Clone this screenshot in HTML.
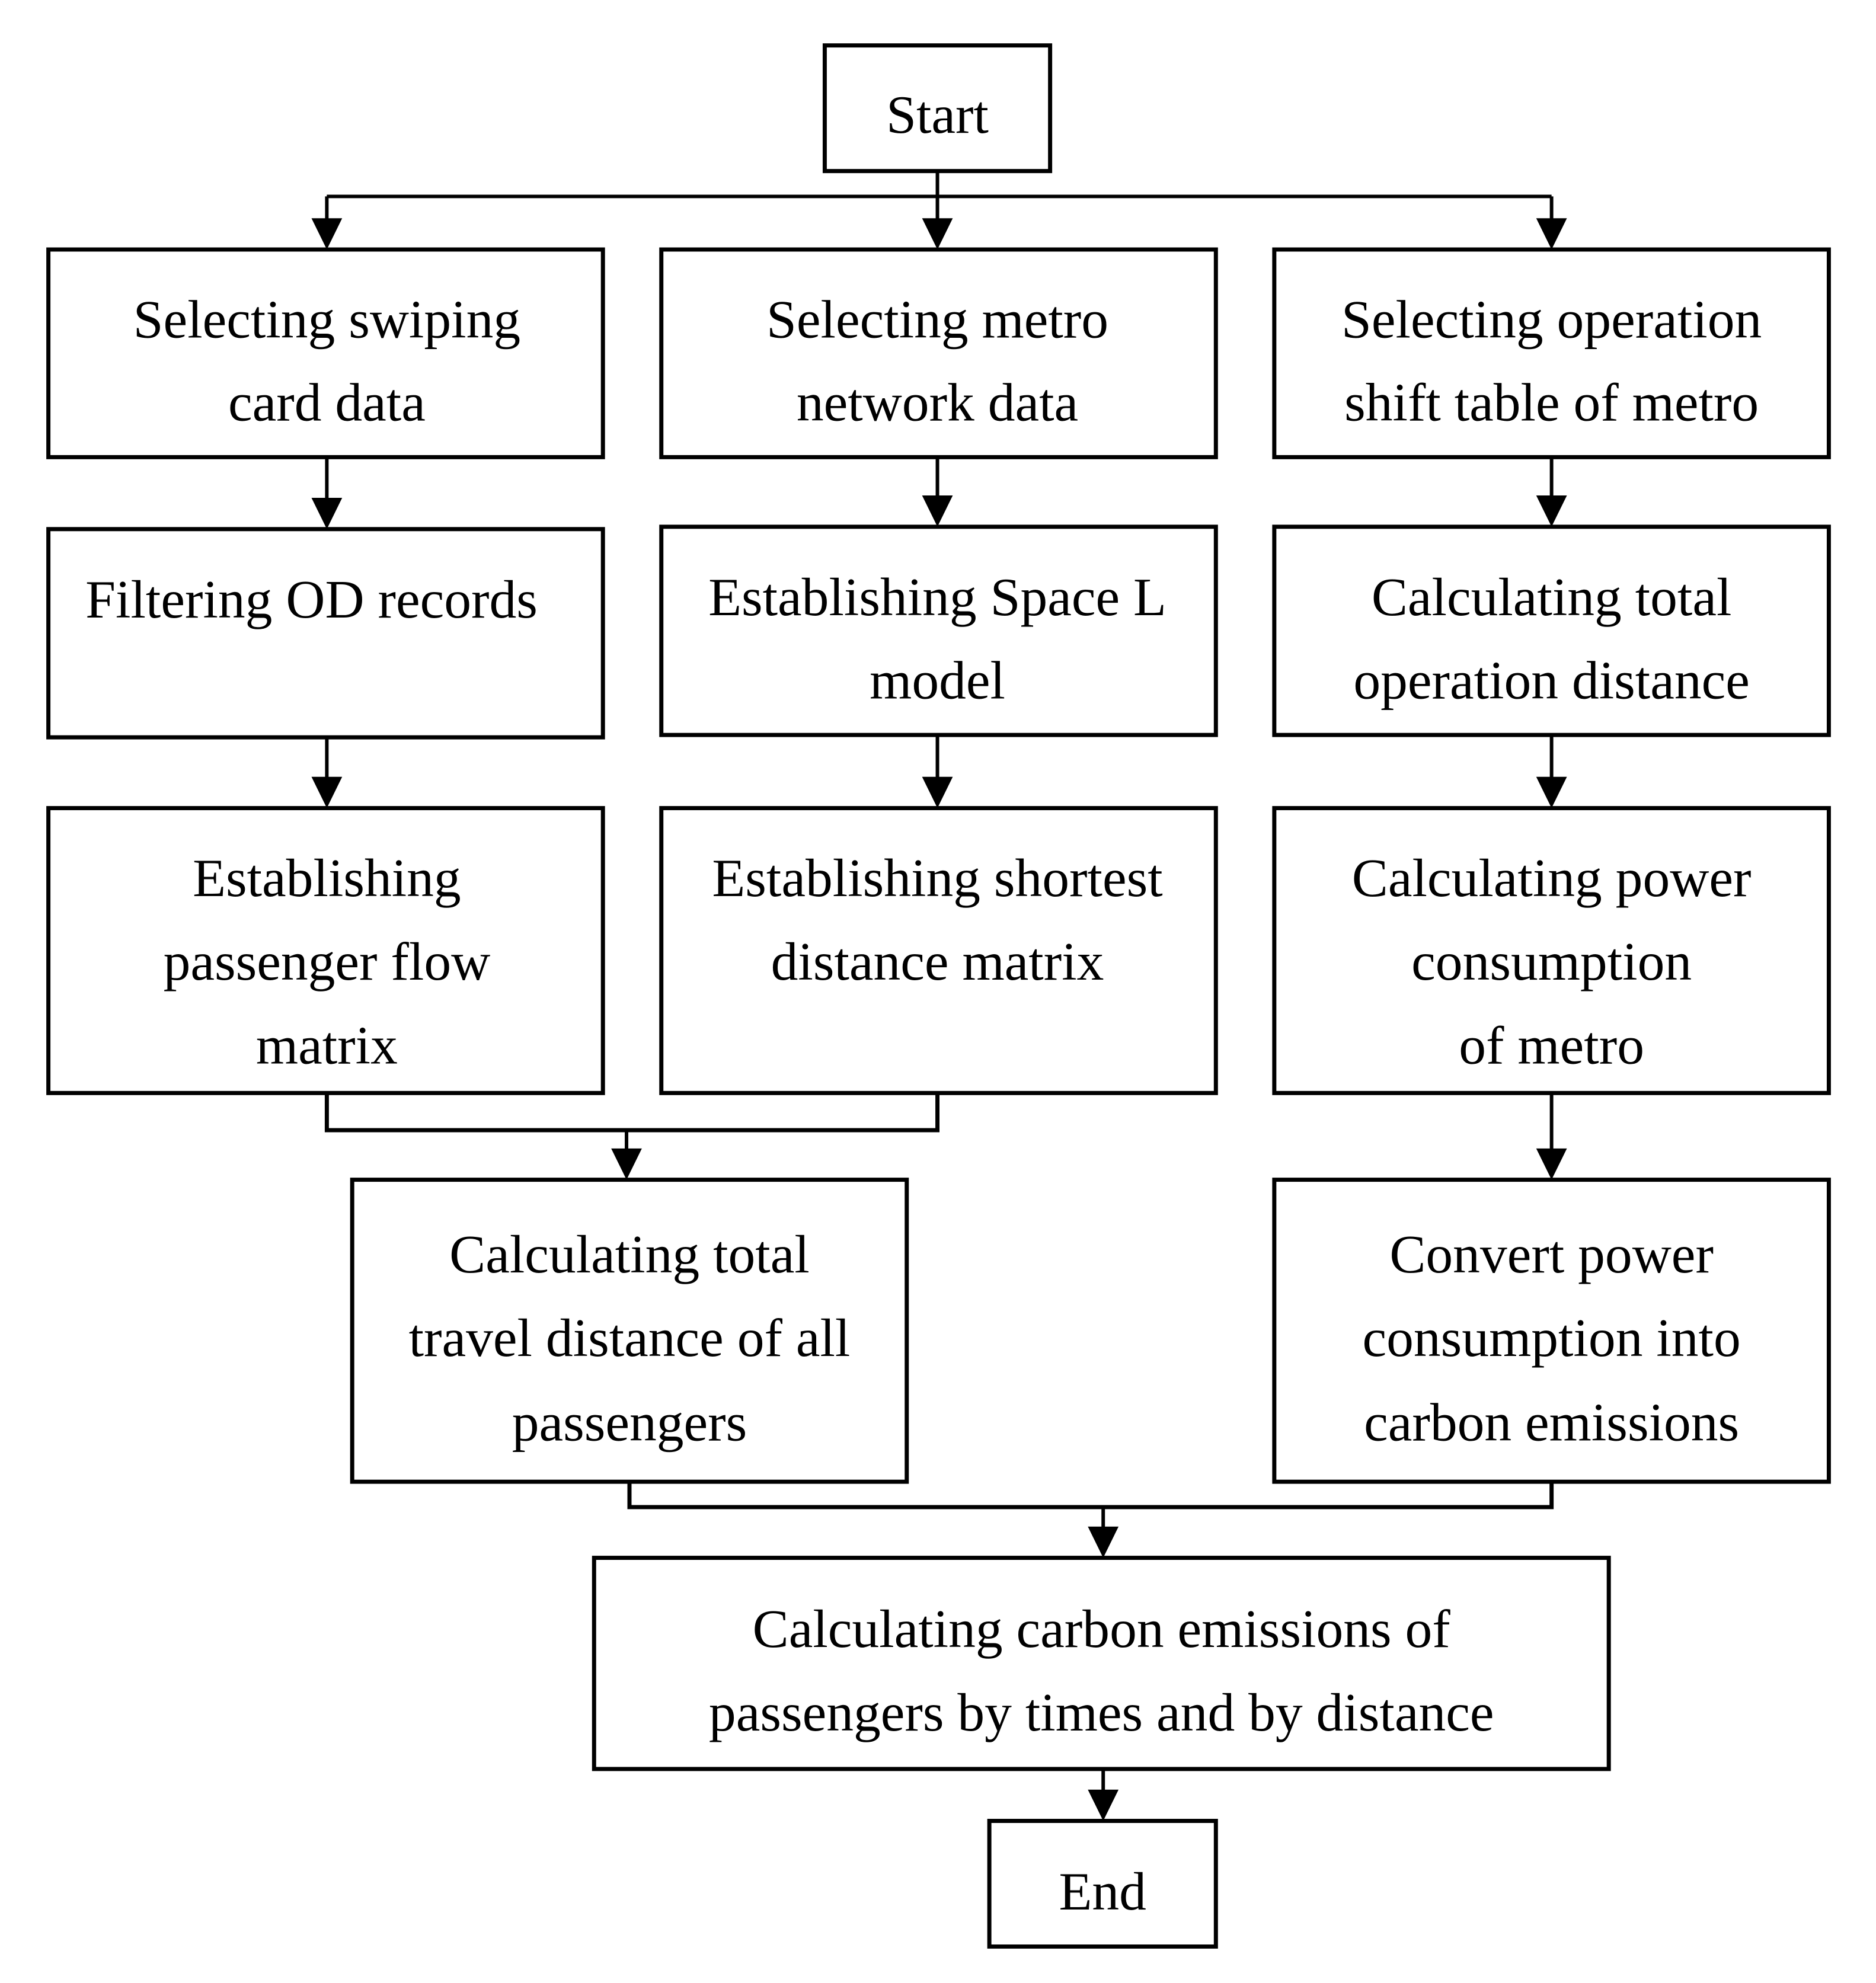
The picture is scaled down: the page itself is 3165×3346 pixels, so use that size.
<!DOCTYPE html>
<html><head><meta charset="utf-8"><style>
html,body{margin:0;padding:0;background:#fff}
svg{display:block}
text{font-family:"Liberation Serif",serif;font-size:92px;fill:#000;text-anchor:middle}
</style></head><body>
<svg width="3165" height="3346" viewBox="0 0 3165 3346" xmlns="http://www.w3.org/2000/svg">
<g transform="scale(0.9953)">
<g fill="none" stroke="#000" stroke-width="7">
<rect x="1398" y="77" width="382" height="213"/>
<rect x="82" y="423" width="940" height="352"/>
<rect x="1121" y="423" width="940" height="352"/>
<rect x="2160" y="423" width="940" height="352"/>
<rect x="82" y="897" width="940" height="353"/>
<rect x="1121" y="893" width="940" height="353"/>
<rect x="2160" y="893" width="940" height="353"/>
<rect x="82" y="1370" width="940" height="483"/>
<rect x="1121" y="1370" width="940" height="483"/>
<rect x="2160" y="1370" width="940" height="483"/>
<rect x="597" y="2000" width="940" height="512"/>
<rect x="2160" y="2000" width="940" height="512"/>
<rect x="1007" y="2641" width="1720" height="358"/>
<rect x="1677" y="3087" width="384" height="213"/>
</g>
<g fill="none" stroke="#000" stroke-width="6">
<path d="M554,333 H2630"/>
<path d="M1589,290 V400"/>
<path d="M554,333 V400"/>
<path d="M2630,333 V400"/>
<path d="M554,775 V874"/>
<path d="M1589,775 V870"/>
<path d="M2630,775 V870"/>
<path d="M554,1250 V1347"/>
<path d="M1589,1246 V1347"/>
<path d="M2630,1246 V1347"/>
<path d="M554,1853 V1916 H1589 V1853" stroke-width="7"/>
<path d="M1062,1916 V1977"/>
<path d="M2630,1853 V1977"/>
<path d="M1067,2512 V2555 H2630 V2512" stroke-width="7"/>
<path d="M1870,2555 V2618"/>
<path d="M1870,2999 V3064"/>
</g>
<g fill="#000">
<path d="M528,370 h52 l-26,53 z"/>
<path d="M1563,370 h52 l-26,53 z"/>
<path d="M2604,370 h52 l-26,53 z"/>
<path d="M528,844 h52 l-26,53 z"/>
<path d="M1563,840 h52 l-26,53 z"/>
<path d="M2604,840 h52 l-26,53 z"/>
<path d="M528,1317 h52 l-26,53 z"/>
<path d="M1563,1317 h52 l-26,53 z"/>
<path d="M2604,1317 h52 l-26,53 z"/>
<path d="M1036,1947 h52 l-26,53 z"/>
<path d="M2604,1947 h52 l-26,53 z"/>
<path d="M1844,2588 h52 l-26,53 z"/>
<path d="M1844,3034 h52 l-26,53 z"/>
</g>
<text x="1589" y="225">Start</text>
<text x="554" y="572">Selecting swiping</text>
<text x="554" y="713">card data</text>
<text x="1589" y="572">Selecting metro</text>
<text x="1589" y="713">network data</text>
<text x="2630" y="572">Selecting operation</text>
<text x="2630" y="713">shift table of metro</text>
<text x="528" y="1047">Filtering OD records</text>
<text x="1589" y="1043">Establishing Space L</text>
<text x="1589" y="1184">model</text>
<text x="2630" y="1043">Calculating total</text>
<text x="2630" y="1184">operation distance</text>
<text x="554" y="1519">Establishing</text>
<text x="554" y="1661">passenger flow</text>
<text x="554" y="1803">matrix</text>
<text x="1589" y="1519">Establishing shortest</text>
<text x="1589" y="1661">distance matrix</text>
<text x="2630" y="1519">Calculating power</text>
<text x="2630" y="1661">consumption</text>
<text x="2630" y="1803">of metro</text>
<text x="1067" y="2157">Calculating total</text>
<text x="1067" y="2299">travel distance of all</text>
<text x="1067" y="2442">passengers</text>
<text x="2630" y="2157">Convert power</text>
<text x="2630" y="2299">consumption into</text>
<text x="2630" y="2442">carbon emissions</text>
<text x="1867" y="2792">Calculating carbon emissions of</text>
<text x="1867" y="2934">passengers by times and by distance</text>
<text x="1869" y="3237">End</text>
</g>
</svg>
</body></html>
